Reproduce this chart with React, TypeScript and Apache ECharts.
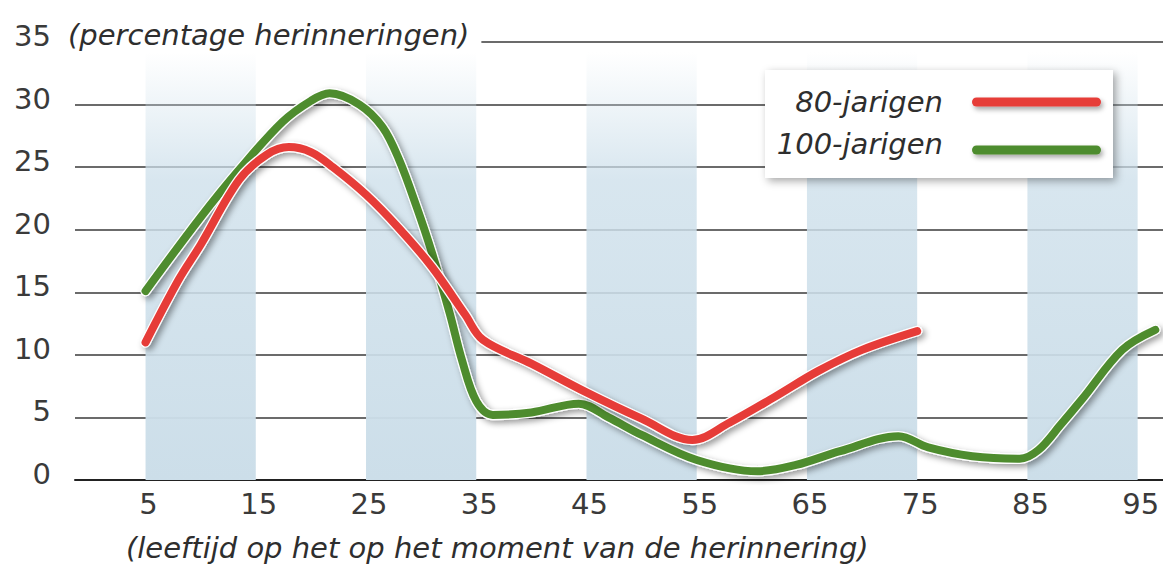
import React, { useEffect, useRef } from "react";
import * as echarts from "echarts";

const xTicks = [5, 15, 25, 35, 45, 55, 65, 75, 85, 95];
const bandStarts = [5, 25, 45, 65, 85];

const red80: [number, number][] = [
  [5, 11.0], [8, 16.0], [10, 18.8], [13.5, 24.0], [16, 26.0], [18, 26.6], [20, 26.2],
  [22, 25.0], [25, 22.8], [28, 20.1], [31, 17.0], [34, 13.2], [35.6, 11.2], [40, 9.3],
  [45, 7.0], [50, 4.9], [54.6, 3.2], [58, 4.6], [62, 6.6], [66, 8.7], [70, 10.4], [75, 11.9],
];

const green100: [number, number][] = [
  [5, 15.1], [10, 21.0], [13.5, 24.8], [17.4, 28.6], [20, 30.3], [21.7, 30.9], [24.4, 30.0],
  [26.5, 28.2], [28, 25.6], [29.6, 21.8], [31, 18.1], [32.6, 13.3], [33.7, 9.6], [35, 6.3],
  [36.5, 5.2], [40, 5.4], [44.3, 6.1], [47, 5.0], [50, 3.6], [55, 1.6], [60.5, 0.7], [64, 1.2],
  [68, 2.3], [73.3, 3.5], [76, 2.6], [80, 1.9], [84.3, 1.7], [86, 2.4], [88, 4.4], [90, 6.5],
  [93.6, 10.4], [96.6, 12.0],
];

const RED = "#e63c38";
const GREEN = "#4e8c2e";
const TXT = "#2e2e2e";
const NUM = "#3a3a3a";
const FONT = "'DejaVu Sans', 'Open Sans', sans-serif";
const FS = 29;

export default function App() {
  const ref = useRef<HTMLDivElement>(null);
  useEffect(() => {
    const chart = echarts.init(ref.current!, null, { renderer: "svg" });
    const bandGradient = new echarts.graphic.LinearGradient(0, 0, 0, 1, [
      { offset: 0, color: "rgba(206,224,235,0)" },
      { offset: 0.3, color: "rgba(206,224,235,0.8)" },
      { offset: 1, color: "rgba(204,222,233,1)" },
    ]);
    const lineSeries = (name: string, data: [number, number][], color: string, z: number) => [
      {
        name: name + "-edge",
        type: "line",
        data,
        smooth: 0.35,
        symbol: "none",
        z,
        silent: true,
        lineStyle: {
          color: "#ffffff",
          width: 10.5,
          cap: "round",
          shadowColor: "rgba(0,0,0,0.4)",
          shadowBlur: 6,
          shadowOffsetX: 3,
          shadowOffsetY: 3,
        },
      },
      {
        name,
        type: "line",
        data,
        smooth: 0.35,
        symbol: "none",
        z: z + 1,
        silent: true,
        lineStyle: { color, width: 8, cap: "round" },
      },
    ];
    const txtStyle = {
      fontSize: FS,
      fontStyle: "italic",
      fontWeight: "normal",
      fontFamily: FONT,
      fill: TXT,
    };
    const legendLine = (y: number, color: string) => ({
      type: "rect",
      z: 32,
      shape: { x: 972, y: y - 4.5, width: 129, height: 9, r: 4.5 },
      style: {
        fill: color,
        shadowColor: "rgba(0,0,0,0.35)",
        shadowBlur: 5,
        shadowOffsetX: 2,
        shadowOffsetY: 3,
      },
    });
    chart.setOption({
      animation: false,
      backgroundColor: "#ffffff",
      grid: { left: 75, right: 0, top: 42, bottom: 88, containLabel: false },
      xAxis: {
        type: "value",
        min: -1.4,
        max: 97.3,
        splitLine: { show: false },
        axisTick: { show: false },
        axisLine: { show: true, lineStyle: { color: "#222", width: 2 } },
        axisLabel: {
          customValues: xTicks,
          fontSize: FS,
          fontWeight: "normal",
          fontFamily: FONT,
          color: NUM,
          margin: 9,
          padding: [0, 0, 0, 6],
        },
      },
      yAxis: {
        type: "value",
        min: 0,
        max: 35,
        interval: 5,
        axisLine: { show: false },
        axisTick: { show: false },
        splitLine: { show: true, lineStyle: { color: "#3a3a3a", width: 1.5 } },
        axisLabel: {
          fontSize: FS,
          fontWeight: "normal",
          fontFamily: FONT,
          color: NUM,
          margin: 24,
          verticalAlign: "bottom",
          lineHeight: 12,
        },
      },
      series: [
        {
          name: "bands",
          type: "line",
          data: [],
          z: -1,
          silent: true,
          markArea: {
            silent: true,
            itemStyle: { color: bandGradient },
            data: bandStarts.map((s) => [
              { xAxis: s, yAxis: 0 },
              { xAxis: s + 10, yAxis: 34.2 },
            ]),
          },
        },
        ...lineSeries("100-jarigen", green100, GREEN, 3),
        ...lineSeries("80-jarigen", red80, RED, 5),
      ],
      graphic: [
        {
          type: "text",
          left: 68,
          top: 20,
          z: 20,
          style: {
            ...txtStyle,
            text: "(percentage herinneringen)",
            backgroundColor: "#ffffff",
            padding: [0, 12, 4, 0],
          },
        },
        {
          type: "text",
          left: 126,
          top: 533,
          z: 20,
          style: { ...txtStyle, text: "(leeftijd op het op het moment van de herinnering)" },
        },
        {
          type: "rect",
          z: 30,
          shape: { x: 765, y: 70, width: 348, height: 108 },
          style: {
            fill: "#ffffff",
            shadowColor: "rgba(0,0,0,0.35)",
            shadowBlur: 8,
            shadowOffsetX: 3,
            shadowOffsetY: 3,
          },
        },
        {
          type: "text",
          z: 31,
          x: 943,
          y: 102,
          style: { ...txtStyle, text: "80-jarigen", align: "right", verticalAlign: "middle" },
        },
        {
          type: "text",
          z: 31,
          x: 943,
          y: 144,
          style: { ...txtStyle, text: "100-jarigen", align: "right", verticalAlign: "middle" },
        },
        legendLine(102, RED),
        legendLine(150, GREEN),
      ],
    });
    return () => chart.dispose();
  }, []);
  return (
    <div
      ref={ref}
      style={{ position: "fixed", left: 0, top: 0, width: 1163, height: 568, background: "#fff" }}
    />
  );
}
